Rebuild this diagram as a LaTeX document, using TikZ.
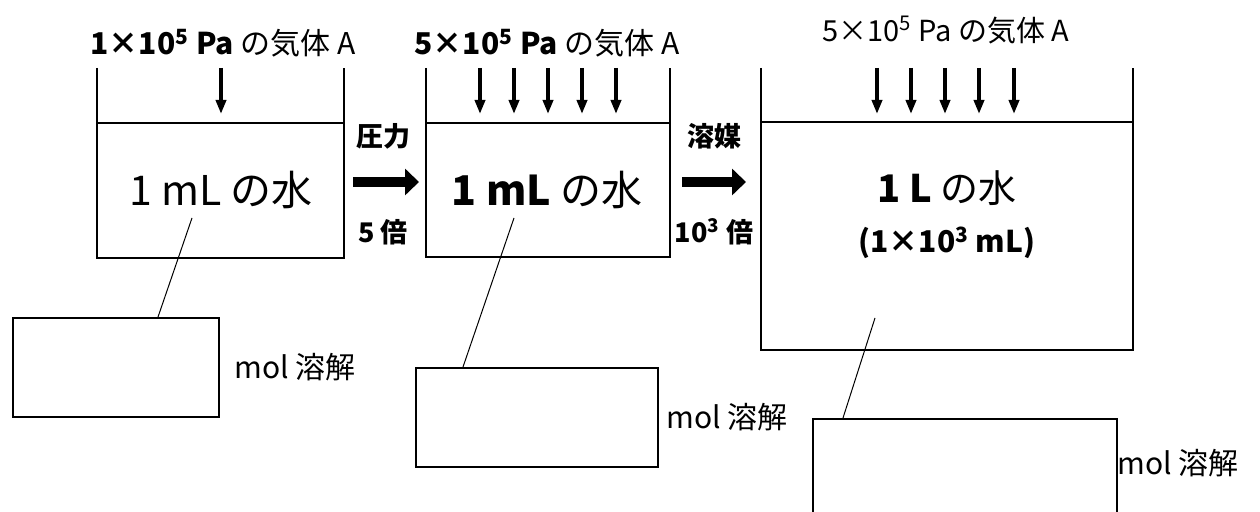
\documentclass[tikz,border=0pt]{standalone}
\usepackage{fontspec}
\setmainfont{Noto Sans CJK JP}
\usetikzlibrary{arrows.meta,positioning}

\tikzset{
  wall/.style={line width=1.2pt},
  surface/.style={line width=0.8pt},
  gasarrow/.style={-{Triangle[length=7pt,width=5pt]},line width=1.8pt},
  bigarrow/.style={-{Triangle[length=7pt,width=13pt]},line width=5pt},
  ansbox/.style={draw,line width=1pt,anchor=north west,inner sep=0pt},
  leader/.style={line width=0.5pt},
  molnote/.style={inner sep=0pt,anchor=west,font=\fontsize{15}{16}\selectfont},
  steplabel/.style={font=\fontsize{13.5}{14}\selectfont\bfseries},
  gaslabel/.style={font=\fontsize{15}{16}\selectfont},
}

\begin{document}
\begin{tikzpicture}[x=0.5pt,y=-0.5pt]
  \clip (0,0) rectangle (1260,512);
  % beaker 1
  \draw[wall] (97,68) -- (97,258) -- (344,258) -- (344,68);
  \draw[surface] (97,123) -- (344,123);
  \coordinate (g1) at (221,68);
  \draw[gasarrow] (g1) -- ++(0,46);
  \node[gaslabel] (t1) at (223,43) {{\bfseries 1×10\textsuperscript{5} Pa} の気体 A};
  \node[font=\fontsize{20.5}{21}\selectfont] (w1) at (221,190) {1 mL の水};
  % beaker 2
  \draw[wall] (426,68) -- (426,257) -- (670,257) -- (670,68);
  \draw[surface] (426,123) -- (670,123);
  \foreach \x in {480,514,548,582,616}
    \draw[gasarrow] (\x,68) -- ++(0,46);
  \node[gaslabel] (t2) at (547,43) {{\bfseries 5×10\textsuperscript{5} Pa} の気体 A};
  \node[font=\fontsize{20.5}{21}\selectfont] (w2) at (547,190) {{\bfseries 1 mL} の水};
  % beaker 3
  \draw[wall] (761,68) -- (761,350) -- (1133,350) -- (1133,68);
  \draw[surface] (761,122) -- (1133,122);
  \foreach \x in {877,911,945,979,1014}
    \draw[gasarrow] (\x,68) -- ++(0,46);
  \node[font=\fontsize{14.5}{15}\selectfont] (t3) at (946,30) {5×10\textsuperscript{5} Pa の気体 A};
  \node[font=\fontsize{19}{20}\selectfont] (w3) at (947,188) {{\bfseries 1 L} の水};
  \node[font=\fontsize{15}{16}\selectfont\bfseries] (w3b) at (947,243) {(1×10\textsuperscript{3} mL)};

  % steps
  \coordinate (s1a) at (353,182); \coordinate (s1b) at (419,182);
  \coordinate (s2a) at (682,182); \coordinate (s2b) at (746,182);
  \draw[bigarrow] (s1a) -- (s1b);
  \draw[bigarrow] (s2a) -- (s2b);
  \node[steplabel] (p1) at (383,136) {圧力};
  \node[steplabel] (p2) at (383,232) {5 倍};
  \node[steplabel] (q1) at (714,136) {溶媒};
  \node[steplabel] (q2) at (714,232) {10\textsuperscript{3} 倍};

  % answer boxes
  \node[ansbox,minimum width=103pt,minimum height=49.5pt] (box1) at (12,317) {};
  \node[ansbox,minimum width=121pt,minimum height=49.5pt] (box2) at (415,367) {};
  \node[ansbox,minimum width=152pt,minimum height=60pt] (box3) at (812,418) {};
  \node[molnote,right=7pt of box1] (mol1) {mol 溶解};
  \node[molnote,right=3.5pt of box2] (mol2) {mol 溶解};
  \node[molnote] (mol3) at (1117,463) {mol 溶解};

  % leaders
  \coordinate (l1) at (192,218); \coordinate (l1b) at (158,317);
  \coordinate (l2) at (514,218); \coordinate (l2b) at (463,367);
  \coordinate (l3) at (875,318); \coordinate (l3b) at (843,418);
  \draw[leader] (l1) -- (l1b);
  \draw[leader] (l2) -- (l2b);
  \draw[leader] (l3) -- (l3b);
\end{tikzpicture}
\end{document}
